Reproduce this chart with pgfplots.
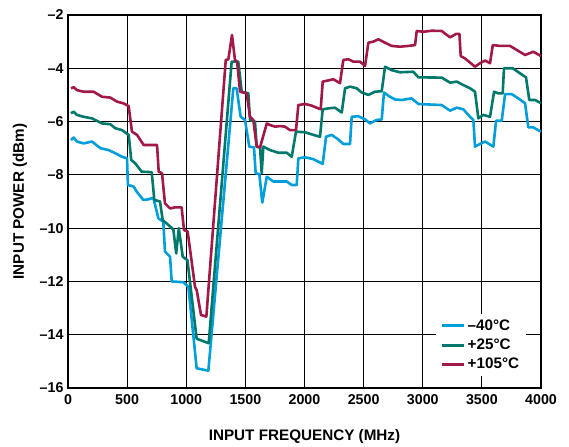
\documentclass[border=0pt]{standalone}
\usepackage{fontspec}
\setmainfont{Liberation Sans}
\usepackage{pgfplots}
\pgfplotsset{compat=1.18}
\definecolor{cblue}{RGB}{0,158,219}
\definecolor{cteal}{RGB}{0,120,108}
\definecolor{cred}{RGB}{162,25,72}
\begin{document}
\begin{tikzpicture}
\begin{axis}[
 scale only axis, width=473bp, height=373bp,
 xmin=0,xmax=4000,ymin=-16,ymax=-2,
 xtick={0,500,...,4000}, ytick={-16,-14,...,-2},
 yticklabels={–16,–14,–12,–10,–8,–6,–4,–2},
 /pgf/number format/1000 sep={},
 /pgf/number format/assume math mode=true,
 tick label style={font=\fontsize{14.3}{16}\selectfont\bfseries},
 xticklabel style={yshift=-3bp},
 yticklabel style={xshift=-1bp},
 grid=major, major grid style={black, line width=1.1bp},
 axis line style={black, line width=1.8bp},
 tick style={draw=none},
 xlabel={INPUT FREQUENCY (MHz)}, ylabel={INPUT POWER (dBm)},
 label style={font=\fontsize{15.3}{17}\selectfont\bfseries},
 xlabel style={at={(axis description cs:0.5,-0.1314)}, anchor=center},
 ylabel style={at={(axis description cs:-0.1015,0.5)}, anchor=center},
 legend style={at={(0.873,0.115)}, anchor=center, draw=none, fill=white,
   font=\fontsize{15.3}{17}\selectfont\bfseries, inner xsep=5bp, inner ysep=4bp, row sep=3bp},
 legend cell align=left,
 legend image code/.code={\draw[#1,line width=3bp] (0bp,0bp) -- (22bp,0bp);},
 every axis plot/.append style={line width=2.6bp, line join=round},
]
\coordinate (bl) at (rel axis cs:0,0);
\coordinate (tr) at (rel axis cs:1,1);
\addplot[cblue, mark=none] coordinates {
(25,-6.69) (48,-6.60) (76,-6.75) (132,-6.82) (203,-6.75) (274,-7.00) (344,-7.07) (400,-7.19) (457,-7.32) (499,-7.38) (507,-8.38) (555,-8.44) (581,-8.63) (637,-8.94) (679,-8.92) (722,-8.86) (764,-9.63) (806,-9.76) (820,-10.88) (863,-11.07) (877,-12.00) (975,-12.03) (1018,-12.20) (1088,-15.26) (1187,-15.35) (1398,-4.75) (1426,-4.75) (1460,-5.82) (1497,-5.94) (1533,-6.94) (1573,-6.97) (1587,-7.94) (1618,-7.97) (1643,-9.04) (1681,-8.07) (1736,-8.25) (1850,-8.25) (1892,-8.38) (1934,-8.38) (1948,-7.38) (2004,-7.34) (2075,-7.41) (2154,-7.59) (2182,-6.57) (2230,-6.50) (2286,-6.67) (2328,-6.84) (2385,-6.84) (2399,-5.82) (2455,-5.80) (2512,-5.92) (2554,-6.07) (2610,-5.94) (2653,-5.92) (2672,-4.91) (2723,-5.07) (2765,-5.17) (2822,-5.19) (2906,-5.13) (2963,-5.34) (3160,-5.38) (3231,-5.59) (3287,-5.48) (3343,-5.54) (3400,-5.82) (3428,-5.94) (3442,-6.94) (3484,-6.84) (3527,-6.75) (3597,-6.94) (3620,-5.97) (3668,-5.97) (3696,-4.97) (3752,-4.97) (3808,-5.13) (3865,-5.31) (3893,-6.22) (3935,-6.22) (4000,-6.38)
};
\addlegendentry{–40°C}
\addplot[cteal, mark=none] coordinates {
(25,-5.69) (48,-5.63) (76,-5.75) (132,-5.82) (203,-5.88) (288,-6.07) (358,-6.10) (400,-6.25) (457,-6.32) (513,-6.50) (535,-7.44) (569,-7.57) (623,-7.88) (708,-7.90) (730,-8.94) (778,-9.00) (801,-9.70) (849,-9.88) (891,-10.05) (915,-10.95) (937,-10.00) (970,-11.07) (1010,-11.20) (1088,-14.15) (1190,-14.32) (1384,-3.75) (1440,-3.75) (1469,-4.88) (1525,-4.94) (1539,-5.94) (1581,-6.00) (1596,-6.94) (1624,-6.97) (1638,-7.94) (1652,-6.94) (1708,-7.07) (1779,-7.17) (1850,-7.17) (1892,-7.32) (1928,-6.38) (2004,-6.40) (2075,-6.50) (2131,-6.57) (2154,-5.54) (2210,-5.50) (2258,-5.48) (2315,-5.66) (2343,-4.75) (2385,-4.69) (2441,-4.75) (2484,-4.91) (2540,-5.00) (2596,-4.88) (2653,-4.86) (2681,-3.94) (2737,-4.07) (2808,-4.15) (2920,-4.13) (2963,-4.34) (3160,-4.35) (3231,-4.54) (3287,-4.50) (3343,-4.63) (3400,-4.75) (3442,-4.88) (3470,-5.88) (3512,-5.75) (3569,-5.82) (3603,-4.88) (3639,-4.94) (3676,-4.94) (3687,-4.00) (3761,-4.00) (3823,-4.19) (3873,-4.34) (3901,-5.19) (3949,-5.19) (4000,-5.31)
};
\addlegendentry{+25°C}
\addplot[cred, mark=none] coordinates {
(25,-4.75) (48,-4.71) (76,-4.82) (132,-4.88) (217,-4.88) (288,-5.07) (358,-5.10) (414,-5.25) (471,-5.32) (513,-5.42) (541,-6.38) (584,-6.50) (640,-6.88) (753,-6.88) (767,-7.88) (795,-7.94) (820,-9.07) (863,-9.26) (905,-9.22) (961,-9.22) (981,-10.07) (1012,-10.13) (1074,-12.20) (1088,-12.32) (1125,-13.26) (1170,-13.32) (1334,-3.69) (1356,-3.66) (1387,-2.75) (1412,-3.69) (1430,-3.75) (1455,-4.88) (1511,-4.94) (1539,-5.82) (1567,-5.94) (1596,-6.94) (1624,-6.97) (1681,-6.07) (1708,-6.13) (1751,-6.19) (1793,-6.17) (1835,-6.19) (1877,-6.32) (1928,-6.32) (1948,-5.38) (2004,-5.34) (2061,-5.40) (2103,-5.48) (2137,-5.54) (2154,-4.50) (2188,-4.47) (2244,-4.41) (2300,-4.56) (2328,-3.69) (2370,-3.66) (2413,-3.75) (2469,-3.75) (2512,-3.91) (2540,-3.04) (2582,-3.00) (2624,-2.91) (2681,-3.04) (2737,-3.16) (2808,-3.19) (2878,-3.16) (2935,-3.13) (2949,-2.60) (3006,-2.63) (3076,-2.59) (3160,-2.60) (3231,-2.84) (3282,-2.71) (3310,-2.71) (3321,-3.54) (3357,-3.63) (3442,-3.94) (3484,-3.81) (3527,-3.71) (3569,-3.81) (3592,-3.13) (3653,-3.16) (3738,-3.16) (3794,-3.31) (3865,-3.50) (3935,-3.38) (4000,-3.54)
};
\addlegendentry{+105°C}
\end{axis}
\pgfresetboundingbox
\path[use as bounding box] ([shift={(-68bp,-58bp)}]bl) rectangle ([shift={(28bp,15bp)}]tr);
\end{tikzpicture}
\end{document}
